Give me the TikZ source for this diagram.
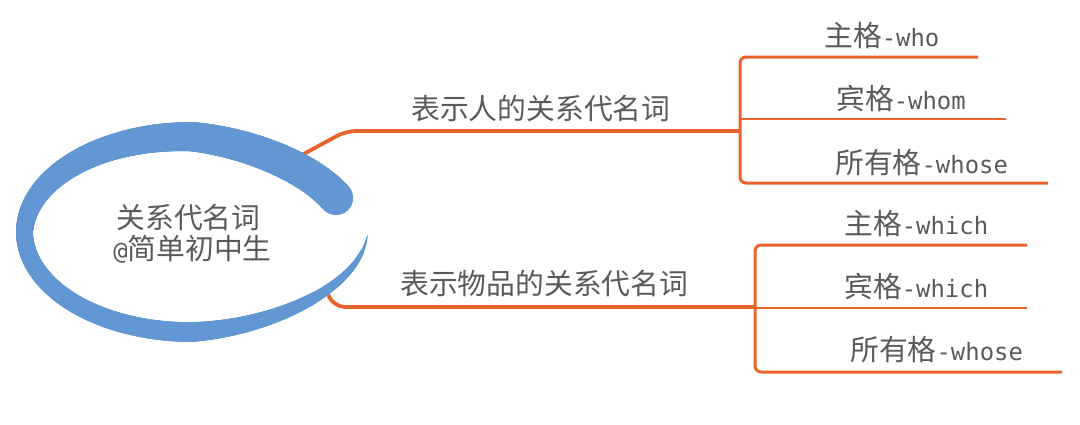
\documentclass[tikz,border=0pt]{standalone}
\usepackage{fontspec}
\newfontfamily\cjk{Noto Sans CJK SC}
\newfontfamily\latm[Scale=0.83]{DejaVu Sans Mono}
\definecolor{swblue}{RGB}{99,151,212}
\definecolor{brorange}{RGB}{233,100,45}
\definecolor{txtgray}{RGB}{90,90,90}
\begin{document}
\begin{tikzpicture}[x=1pt,y=-1pt,
  lbl/.style={font=\cjk\fontsize{28.8}{34}\selectfont, text=txtgray, inner sep=0pt, anchor=base west},
  mainline/.style={draw=brorange, line width=3.8pt, rounded corners=10pt},
  bracketline/.style={draw=brorange, line width=3pt, rounded corners=6pt},
  subline/.style={draw=brorange, line width=2.4pt},
]
\useasboundingbox (0,0) rectangle (1080,424);

% ---- connector coordinates
\coordinate (b1s) at (300,156);
\coordinate (b1k) at (346,131);
\coordinate (j1) at (740,131);
\coordinate (t1) at (740,57);
\coordinate (t1e) at (978,57);
\coordinate (m1) at (740,119);
\coordinate (m1e) at (1006,119);
\coordinate (u1) at (740,183);
\coordinate (u1e) at (1048,183);

\coordinate (b2s) at (326,289);
\coordinate (b2k) at (333,307);
\coordinate (j2) at (755,307);
\coordinate (t2) at (755,245);
\coordinate (t2e) at (1027,245);
\coordinate (m2) at (755,308);
\coordinate (m2e) at (1027,308);
\coordinate (u2) at (755,372);
\coordinate (u2e) at (1062,372);

% ---- branches
\draw[mainline] (b1s) -- (b1k) -- (j1);
\draw[bracketline] (t1e) -- (t1) -- (u1) -- (u1e);
\draw[subline] (m1) -- (m1e);

\draw[mainline, rounded corners=12pt] (b2s) -- (b2k) -- (j2);
\draw[bracketline] (t2e) -- (t2) -- (u2) -- (u2e);
\draw[subline] (m2) -- (m2e);

% ---- swoosh (brush ellipse)
\foreach \u in {25,25.5,...,358} {
  \pgfmathsetmacro\w{(\u<180) ? (17+17*(1-((\u-24)/156)^1.5)) : ((\u<270) ? (17+3*(\u-180)/90) : (20*((360-\u)/90)^0.8))}
  \pgfmathsetmacro\ca{cos(-\u)}
  \pgfmathsetmacro\sa{sin(-\u)}
  \pgfmathsetmacro\ry{110-14*max(\ca,0)}
  \fill[swblue] ({192+(176-\w/2)*\ca},{232+(\ry-\w/2)*\sa}) circle[radius=\w/2];
}

% ---- labels
\node[lbl, anchor=base] (root) at (188.5,228) {关系代名词};
\node[lbl, anchor=base] (rootsub) at (192.5,259) {{\latm @}简单初中生};

\node[lbl] (p1) at (411,119) {表示人的关系代名词};
\node[lbl] (p1a) at (824,46) {主格{\latm -who}};
\node[lbl] (p1b) at (836,109) {宾格{\latm -whom}};
\node[lbl] (p1c) at (835,173) {所有格{\latm -whose}};

\node[lbl] (p2) at (400,294) {表示物品的关系代名词};
\node[lbl] (p2a) at (844,234) {主格{\latm -which}};
\node[lbl] (p2b) at (844,297) {宾格{\latm -which}};
\node[lbl] (p2c) at (850,360) {所有格{\latm -whose}};
\end{tikzpicture}
\end{document}
